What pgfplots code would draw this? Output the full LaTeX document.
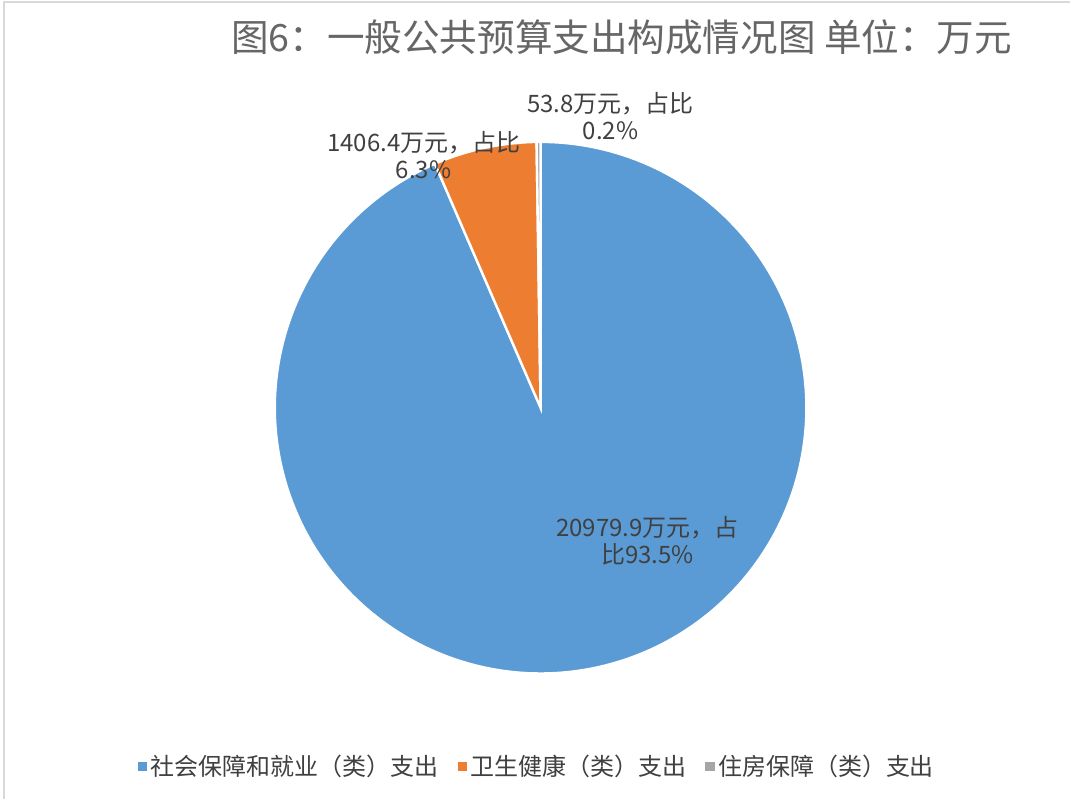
\documentclass[border=0pt]{standalone}
\usepackage{pgfplots}
\pgfplotsset{compat=1.18}
\usepackage{fontspec}
\setmainfont{Noto Sans CJK SC}
\definecolor{pieblue}{HTML}{5B9BD5}
\definecolor{pieorange}{HTML}{ED7D31}
\definecolor{piegray}{HTML}{A5A5A5}
\definecolor{txt}{HTML}{404040}
\definecolor{ttl}{HTML}{666666}
% values (万元)
\def\vA{20979.9}
\def\vB{1406.4}
\def\vC{53.8}
\edef\tot{\fpeval{\vA+\vB+\vC}}
\edef\aEnd{\fpeval{round(90-360*\vA/\tot,4)}}
\edef\bEnd{\fpeval{round(\aEnd-360*\vB/\tot,4)}}
\edef\cEnd{\fpeval{round(\bEnd-360*\vC/\tot,4)}}
\def\cx{541}
\def\cy{392}
\def\rr{266}
\begin{document}
\begin{tikzpicture}
\begin{axis}[
  width=803.25pt, height=600pt, scale only axis,
  xmin=0, xmax=1071, ymin=0, ymax=800,
  hide axis, clip=false,
  legend columns=3,
  legend style={draw=none, fill=none, at={(axis cs:538,33)}, anchor=center,
    font=\fontsize{18}{20}\selectfont\color{txt},
    nodes={inner xsep=2.5pt},
    /tikz/every odd column/.append style={column sep=0pt},
    /tikz/every even column/.append style={column sep=12pt}},
  legend image code/.code={\fill[#1,draw=none] (0pt,-3.5pt) rectangle (7pt,3.5pt);},
]
\path[fill=white] (axis cs:0,0) rectangle (axis cs:1071,800);
\draw[color=black!15, line width=1.2pt] (axis cs:4,0) -- (axis cs:4,798) -- (axis cs:1071,798);

\addplot[fill=pieblue, draw=white, line width=1.8pt, domain=\aEnd:90, samples=240, variable=\t]
  ({\cx+\rr*cos(\t)},{\cy+\rr*sin(\t)}) -- (axis cs:\cx,\cy) -- cycle;
\addlegendentry{社会保障和就业（类）支出}
\addplot[fill=pieorange, draw=white, line width=1.8pt, domain=\bEnd:\aEnd, samples=30, variable=\t]
  ({\cx+\rr*cos(\t)},{\cy+\rr*sin(\t)}) -- (axis cs:\cx,\cy) -- cycle;
\addlegendentry{卫生健康（类）支出}
\addplot[fill=piegray, draw=white, line width=1.8pt, domain=\cEnd:\bEnd, samples=5, variable=\t]
  ({\cx+\rr*cos(\t)},{\cy+\rr*sin(\t)}) -- (axis cs:\cx,\cy) -- cycle;
\addlegendentry{住房保障（类）支出}

\node[text=ttl, font=\fontsize{28.2}{30}\selectfont] at (axis cs:622,763) {图6：一般公共预算支出构成情况图 单位：万元};

\node[text=txt, font=\fontsize{18}{20.3}\selectfont, align=center] at (axis cs:611,684) {53.8万元，占比\\0.2\%};
\node[text=txt, font=\fontsize{18}{20.3}\selectfont, align=center] at (axis cs:424,645) {1406.4万元，占比\\6.3\%};
\node[text=txt, font=\fontsize{18}{20.3}\selectfont, align=center] at (axis cs:648,259) {20979.9万元，占\\比93.5\%};
\end{axis}
\end{tikzpicture}
\end{document}
